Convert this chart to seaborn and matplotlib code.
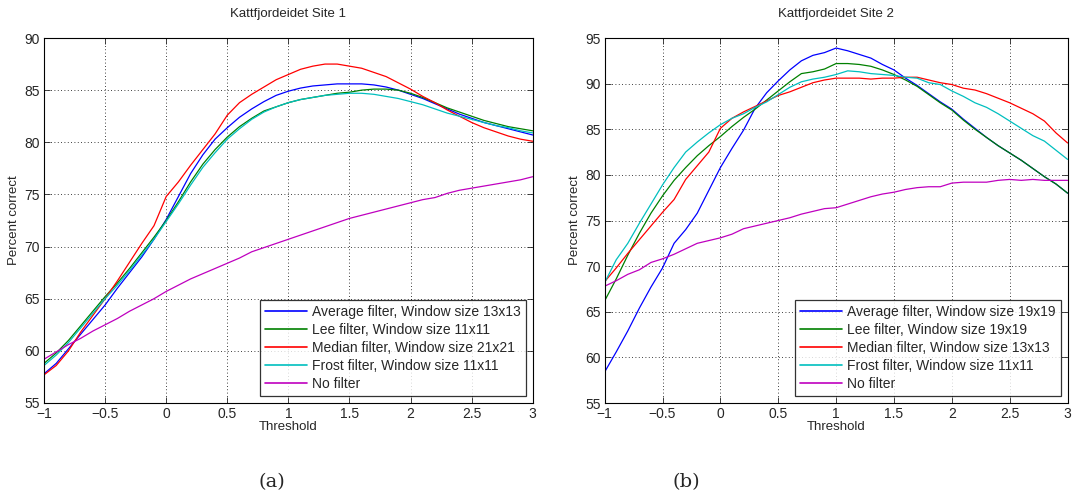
import numpy as np
import pandas as pd
import matplotlib
matplotlib.use("Agg")
import matplotlib.pyplot as plt
import seaborn as sns

# Threshold values (step 0.1 from -1 to 3)
threshold = np.round(np.arange(-1.0, 3.01, 0.1), 1)

# Site 1 curves
s1_average = [57.8, 58.8, 60.2, 61.6, 63.0, 64.4, 66.0, 67.5, 69.0, 70.7, 72.6, 74.8, 77.0, 78.8, 80.3,
              81.4, 82.4, 83.2, 83.9, 84.5, 84.9, 85.2, 85.4, 85.5, 85.6, 85.6, 85.6, 85.5, 85.3, 85.0,
              84.6, 84.2, 83.7, 83.2, 82.7, 82.3, 81.9, 81.6, 81.3, 81.0, 80.7]
s1_lee = [58.8, 59.8, 61.0, 62.4, 63.8, 65.2, 66.5, 67.9, 69.4, 70.9, 72.5, 74.3, 76.2, 77.9, 79.3,
          80.5, 81.5, 82.3, 83.0, 83.4, 83.8, 84.1, 84.3, 84.5, 84.7, 84.8, 85.0, 85.1, 85.1, 85.0,
          84.7, 84.3, 83.8, 83.3, 82.9, 82.5, 82.1, 81.8, 81.5, 81.3, 81.1]
s1_median = [57.7, 58.6, 60.0, 61.8, 63.4, 65.0, 66.7, 68.5, 70.3, 72.0, 74.8, 76.2, 77.8, 79.3, 80.8,
             82.6, 83.8, 84.6, 85.3, 86.0, 86.5, 87.0, 87.3, 87.5, 87.5, 87.3, 87.1, 86.7, 86.3, 85.7,
             85.1, 84.4, 83.8, 83.1, 82.5, 81.9, 81.4, 81.0, 80.6, 80.3, 80.1]
s1_frost = [58.6, 59.6, 60.8, 62.2, 63.6, 65.0, 66.3, 67.7, 69.2, 70.7, 72.4, 74.1, 75.9, 77.6, 79.0,
            80.3, 81.3, 82.2, 82.9, 83.4, 83.8, 84.1, 84.3, 84.5, 84.6, 84.7, 84.7, 84.6, 84.4, 84.2,
            83.9, 83.6, 83.2, 82.8, 82.5, 82.2, 81.9, 81.6, 81.4, 81.1, 80.9]
s1_none = [59.2, 59.9, 60.6, 61.2, 61.9, 62.5, 63.1, 63.8, 64.4, 65.0, 65.7, 66.3, 66.9, 67.4, 67.9,
           68.4, 68.9, 69.5, 69.9, 70.3, 70.7, 71.1, 71.5, 71.9, 72.3, 72.7, 73.0, 73.3, 73.6, 73.9,
           74.2, 74.5, 74.7, 75.1, 75.4, 75.6, 75.8, 76.0, 76.2, 76.4, 76.7]

# Site 2 curves
s2_average = [58.4, 60.6, 62.9, 65.4, 67.7, 69.8, 72.5, 74.0, 75.8, 78.3, 80.8, 82.9, 84.9, 87.3, 89.0,
              90.3, 91.5, 92.5, 93.1, 93.4, 93.9, 93.6, 93.2, 92.8, 92.1, 91.5, 90.6, 89.8, 88.9, 88.0,
              87.2, 86.1, 85.1, 84.1, 83.2, 82.4, 81.6, 80.7, 79.8, 79.0, 78.0]
s2_lee = [66.2, 68.6, 71.2, 73.6, 75.8, 77.7, 79.4, 80.8, 82.1, 83.2, 84.2, 85.3, 86.3, 87.2, 88.2,
          89.2, 90.2, 91.1, 91.3, 91.6, 92.2, 92.2, 92.1, 91.9, 91.5, 91.0, 90.4, 89.7, 88.8, 87.9,
          87.1, 86.0, 85.0, 84.1, 83.2, 82.4, 81.6, 80.7, 79.8, 79.0, 78.0]
s2_median = [68.3, 69.8, 71.4, 72.9, 74.4, 75.9, 77.3, 79.5, 81.0, 82.5, 85.1, 86.2, 86.9, 87.5, 88.1,
             88.7, 89.1, 89.6, 90.1, 90.4, 90.6, 90.6, 90.6, 90.5, 90.6, 90.6, 90.7, 90.7, 90.4, 90.1,
             89.9, 89.5, 89.3, 88.9, 88.4, 87.9, 87.3, 86.7, 85.9, 84.6, 83.5]
s2_frost = [68.2, 70.7, 72.5, 74.7, 76.8, 78.9, 80.8, 82.5, 83.6, 84.6, 85.5, 86.2, 86.7, 87.4, 88.0,
            88.8, 89.6, 90.2, 90.5, 90.7, 91.0, 91.4, 91.3, 91.1, 91.0, 90.9, 90.7, 90.6, 90.1, 89.9,
            89.2, 88.6, 87.9, 87.4, 86.7, 85.9, 85.1, 84.3, 83.7, 82.7, 81.7]
s2_none = [67.8, 68.4, 69.1, 69.6, 70.4, 70.8, 71.3, 71.9, 72.5, 72.8, 73.1, 73.5, 74.1, 74.4, 74.7,
           75.0, 75.3, 75.7, 76.0, 76.3, 76.4, 76.8, 77.2, 77.6, 77.9, 78.1, 78.4, 78.6, 78.7, 78.7,
           79.1, 79.2, 79.2, 79.2, 79.4, 79.5, 79.4, 79.5, 79.4, 79.4, 79.4]

s1_labels = ["Average filter, Window size 13x13", "Lee filter, Window size 11x11",
             "Median filter, Window size 21x21", "Frost filter, Window size 11x11", "No filter"]
s2_labels = ["Average filter, Window size 19x19", "Lee filter, Window size 19x19",
             "Median filter, Window size 13x13", "Frost filter, Window size 11x11", "No filter"]
line_colors = ["#0000ff", "#008000", "#ff0000", "#00bfbf", "#bf00bf"]


def make_frame(labels, series):
    rows = []
    for lab, vals in zip(labels, series):
        rows.append(pd.DataFrame({"Threshold": threshold, "Percent": vals, "Filter": lab}))
    return pd.concat(rows, ignore_index=True)


df1 = make_frame(s1_labels, [s1_average, s1_lee, s1_median, s1_frost, s1_none])
df2 = make_frame(s2_labels, [s2_average, s2_lee, s2_median, s2_frost, s2_none])

sns.set_style("ticks")
plt.rcParams['font.family'] = ['Liberation Sans', 'DejaVu Sans']

fig = plt.figure(figsize=(10.74, 5.0), dpi=100)
ax1 = fig.add_axes([0.041, 0.194, 0.455, 0.730])
ax2 = fig.add_axes([0.563, 0.194, 0.431, 0.730])


def style_axis(ax, df, labels, title, ylim, yticks):
    sns.lineplot(data=df, x="Threshold", y="Percent", hue="Filter", hue_order=labels,
                 palette=dict(zip(labels, line_colors)), linewidth=0.9, ax=ax)
    ax.set_xlim(-1, 3)
    ax.set_ylim(*ylim)
    ax.set_xticks(np.arange(-1, 3.01, 0.5))
    ax.set_xticklabels(["\u22121", "\u22120.5", "0", "0.5", "1", "1.5", "2", "2.5", "3"])
    ax.set_yticks(yticks)
    ax.grid(True, linestyle=(0, (1, 3)), color="black", linewidth=0.6)
    ax.tick_params(direction="in", top=True, right=True, labelsize=10, length=4, width=0.6, pad=3)
    for sp in ax.spines.values():
        sp.set_color("black")
        sp.set_linewidth(0.8)
        sp.set_visible(True)
    ax.set_xlabel("Threshold", fontsize=9.5, labelpad=0)
    ax.set_ylabel("Percent correct", fontsize=9.5, labelpad=3)
    ax.set_title(title, fontsize=9.5, pad=15)
    leg = ax.legend(loc="lower right", fontsize=10, frameon=True, fancybox=False,
                    borderaxespad=0.5, handlelength=3.0, labelspacing=0.3,
                    borderpad=0.35, handletextpad=0.4)
    leg.get_frame().set_edgecolor("black")
    leg.get_frame().set_linewidth(0.9)
    for ln in leg.get_lines():
        ln.set_linewidth(1.2)


style_axis(ax1, df1, s1_labels, "Kattfjordeidet Site 1", (55, 90), np.arange(55, 91, 5))
style_axis(ax2, df2, s2_labels, "Kattfjordeidet Site 2", (55, 95), np.arange(55, 96, 5))

fig.text(0.253, 0.025, "(a)", family="DejaVu Serif", fontsize=14, ha="center")
fig.text(0.639, 0.025, "(b)", family="DejaVu Serif", fontsize=14, ha="center")

fig.savefig("out.png", dpi=100, facecolor="white")
